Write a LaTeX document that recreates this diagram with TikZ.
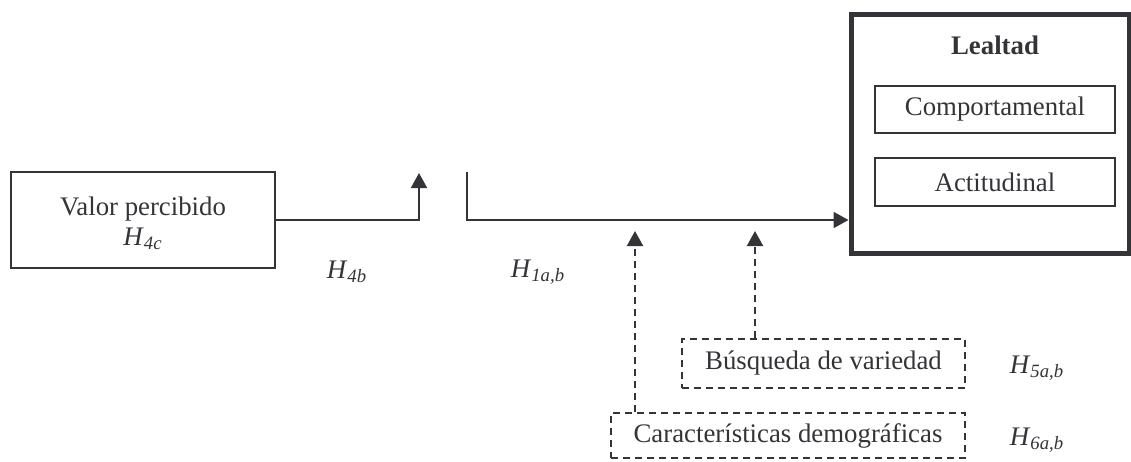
\documentclass[tikz,border=0pt]{standalone}
\usepackage{fontspec}
\setmainfont{Liberation Serif}
\usetikzlibrary{arrows.meta}
\definecolor{ink}{RGB}{52,52,56}
\newcommand{\hyp}[1]{\textit{H}\textsubscript{\textit{#1}}}
\tikzset{
  base/.style={font=\fontsize{13.4}{16.5}\selectfont, text=ink},
  solidbox/.style={base, draw=ink, line width=1pt, inner sep=0pt, align=center},
  dashbox/.style={base, draw=ink, line width=1pt, inner sep=0pt, dash pattern=on 3.5pt off 2.5pt},
  link/.style={draw=ink, line width=1pt, -{Triangle[length=7.5pt,width=8pt]}},
  dashlink/.style={link, dash pattern=on 3.5pt off 2.5pt},
  hlabel/.style={base, inner sep=0pt}
}
\begin{document}
\begin{tikzpicture}[x=0.5pt, y=-0.5pt]
\useasboundingbox (0,0) rectangle (1131,461);

% predictor
\node[solidbox, minimum width=132pt, minimum height=48pt] (valor) at (143,220) {};
\node[base, align=center, inner sep=0pt] (valortxt) at (143,223)
  {Valor percibido\\[-1.5pt]\hyp{4c}};

% outcome construct with its two dimensions
\node[draw=ink, line width=2.5pt, minimum width=139pt, minimum height=119.25pt, inner sep=0pt] (lealtad) at (990,133.75) {};
\node[base, font=\fontsize{13.4}{16.5}\selectfont\bfseries] (titulo) at (995,45) {Lealtad};
\node[solidbox, minimum width=120pt, minimum height=23.5pt] (comp) at (995,109.5) {Comportamental};
\node[solidbox, minimum width=120pt, minimum height=24pt] (acti) at (995,182) {Actitudinal};

% moderators
\node[dashbox, minimum width=141.5pt, minimum height=24.5pt] (busq) at (823.5,363.5) {Búsqueda de variedad};
\node[dashbox, minimum width=177pt, minimum height=22.5pt] (carac) at (788,435.5) {Características demográficas};

% path coordinates
\coordinate (up1) at (419,173);
\coordinate (s2) at (467,172);
\coordinate (j2) at (467,220);
\coordinate (m1) at (635,231);
\coordinate (m2) at (755,231);

% connectors
\draw[link] (valor.east) -| (up1);
\draw[link] (s2) -- (j2) -- (j2 -| lealtad.west);
\draw[dashlink] (carac.north -| m1) -- (m1);
\draw[dashlink] (busq.north -| m2) -- (m2);

% hypothesis labels
\node[hlabel] (h4b) at (347,272) {\hyp{4b}};
\node[hlabel] (h1) at (538,272) {\hyp{1a,b}};
\node[hlabel] (h5) at (1037,368) {\hyp{5a,b}};
\node[hlabel] (h6) at (1037,440) {\hyp{6a,b}};
\end{tikzpicture}
\end{document}
